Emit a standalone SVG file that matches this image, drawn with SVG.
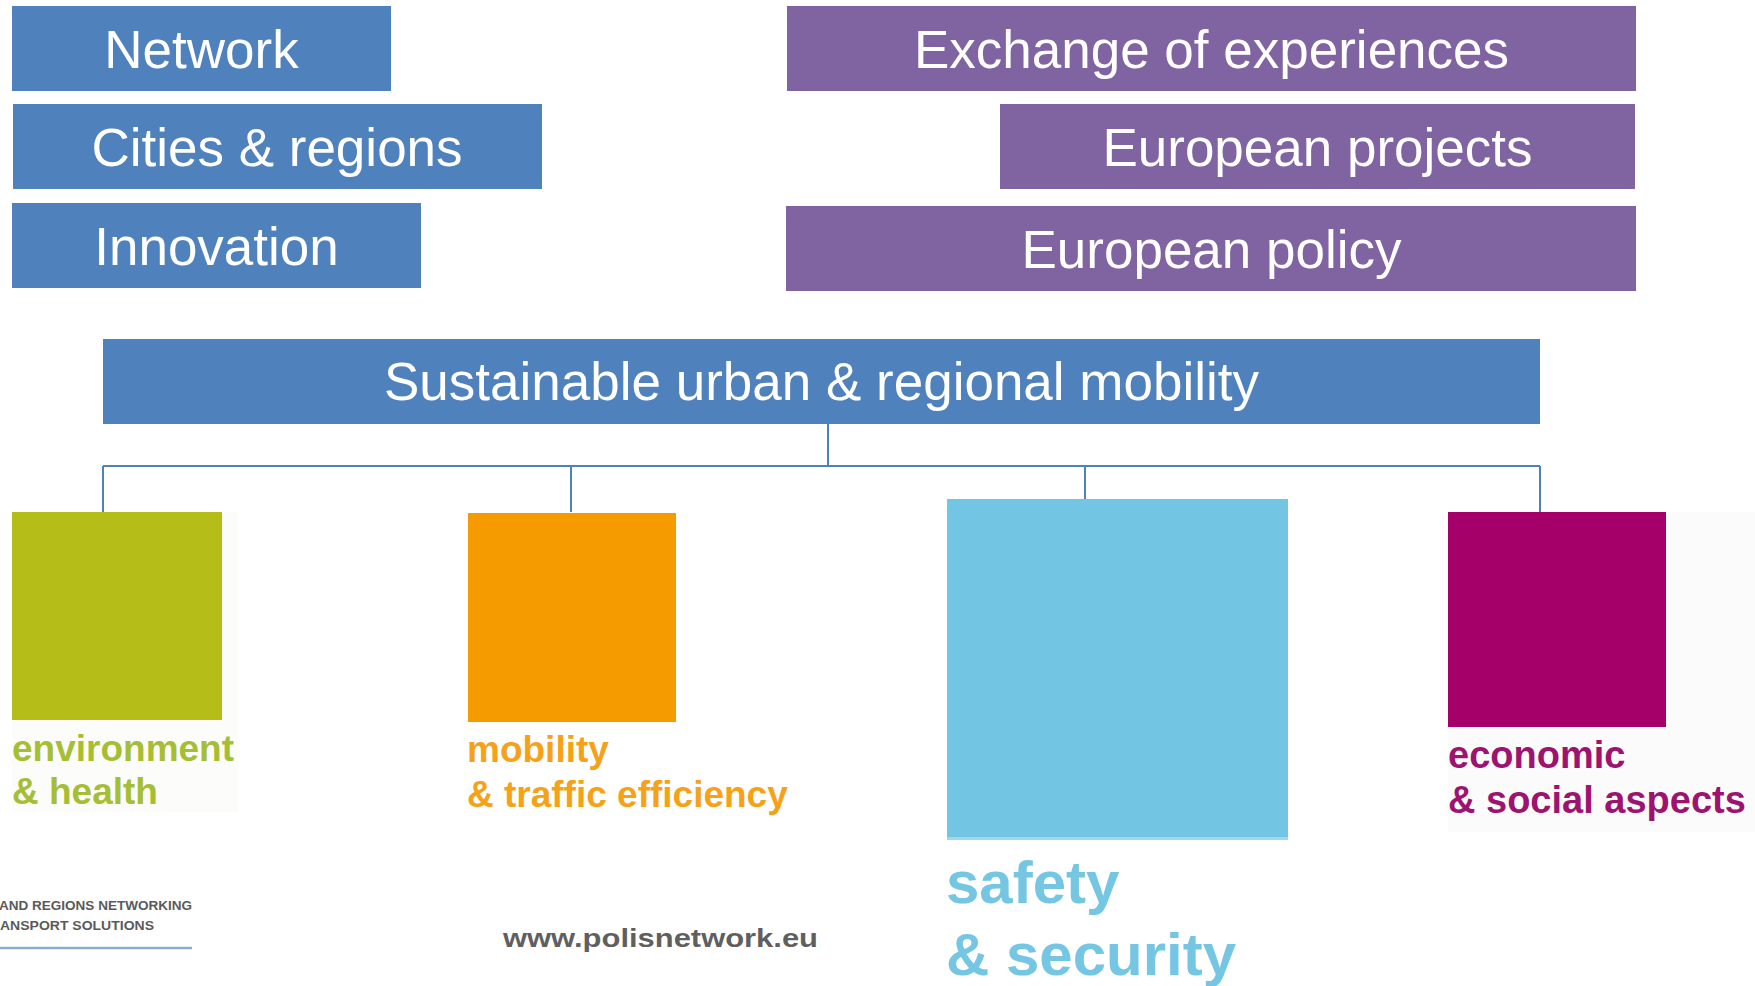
<svg xmlns="http://www.w3.org/2000/svg" width="1755" height="986" viewBox="0 0 1755 986">
<style>
.blue{fill:#4f81bd}
.purple{fill:#8064a2}
.wt{fill:#ffffff;font-family:"Liberation Sans",Arial,sans-serif;font-size:53px;text-anchor:middle}
.lbl{font-family:"Liberation Sans",Arial,sans-serif;font-weight:bold;font-size:37px}
.lbl38{font-family:"Liberation Sans",Arial,sans-serif;font-weight:bold;font-size:38px}
.conn{stroke:#4f81bd;stroke-width:2;fill:none}
.foot{fill:#5a5a5a;font-family:"Liberation Sans",Arial,sans-serif;font-weight:bold;font-size:13.5px}
</style>
<rect x="0" y="0" width="1755" height="986" fill="#ffffff"/>
<g id="network"><rect class="blue" x="12" y="6" width="379" height="85"/><text class="wt" x="201.5" y="68">Network</text></g>
<g id="cities"><rect class="blue" x="13" y="104" width="529" height="85"/><text class="wt" x="277" y="166">Cities &amp; regions</text></g>
<g id="innovation"><rect class="blue" x="12" y="203" width="409" height="85"/><text class="wt" x="216.5" y="265">Innovation</text></g>
<g id="exchange"><rect class="purple" x="787" y="6" width="849" height="85"/><text class="wt" x="1211.5" y="68">Exchange of experiences</text></g>
<g id="projects"><rect class="purple" x="1000" y="104" width="635" height="85"/><text class="wt" x="1317.5" y="166">European projects</text></g>
<g id="policy"><rect class="purple" x="786" y="206" width="850" height="85"/><text class="wt" x="1211.5" y="268">European policy</text></g>
<g id="sustainable"><rect class="blue" x="103" y="339" width="1437" height="85"/><text class="wt" x="821.5" y="400">Sustainable urban &amp; regional mobility</text></g>
<g id="connectors">
<path class="conn" d="M828 424 V466 M103 466 H1540 M103 466 V512 M571 466 V512 M1085 466 V512 M1540 466 V512"/>
</g>
<g id="environment">
<rect x="12" y="512" width="226" height="300" fill="#fcfcfa"/>
<rect x="12" y="512" width="210" height="208" fill="#b5bd19"/>
<text class="lbl" x="12" y="761" fill="#a6be35">environment</text>
<text class="lbl" x="12" y="804" fill="#a6be35">&amp; health</text>
</g>
<g id="mobility">
<rect x="468" y="513" width="208" height="209" fill="#f59b00"/>
<text class="lbl" x="467" y="762" fill="#f5a219">mobility</text>
<text class="lbl" x="467" y="807" fill="#f5a219">&amp; traffic efficiency</text>
</g>
<g id="safety">
<rect x="947" y="499" width="341" height="341" fill="#9fd8ec"/>
<rect x="947" y="499" width="341" height="338" fill="#72c6e3"/>
<text x="946" y="903" fill="#74c6e3" font-family="Liberation Sans, Arial, sans-serif" font-weight="bold" font-size="60">safety</text>
<text x="946" y="975" fill="#74c6e3" font-family="Liberation Sans, Arial, sans-serif" font-weight="bold" font-size="60">&amp; security</text>
</g>
<g id="economic">
<rect x="1448" y="512" width="307" height="320" fill="#fbfbfb"/>
<rect x="1448" y="512" width="218" height="215" fill="#a5006a"/>
<text class="lbl38" x="1448" y="768" fill="#9c1470">economic</text>
<text class="lbl38" x="1448" y="813" fill="#9c1470">&amp; social aspects</text>
</g>
<g id="footer">
<text class="foot" x="-1" y="910" textLength="193" lengthAdjust="spacingAndGlyphs">AND REGIONS NETWORKING</text>
<text class="foot" x="0" y="930" textLength="154" lengthAdjust="spacingAndGlyphs">ANSPORT SOLUTIONS</text>
<line x1="0" y1="948" x2="192" y2="948" stroke="#8eaacd" stroke-width="2.5"/>
<text x="503" y="947" fill="#5f5f5f" font-family="Liberation Sans, Arial, sans-serif" font-weight="bold" font-size="25" textLength="315" lengthAdjust="spacingAndGlyphs">www.polisnetwork.eu</text>
</g>
</svg>
